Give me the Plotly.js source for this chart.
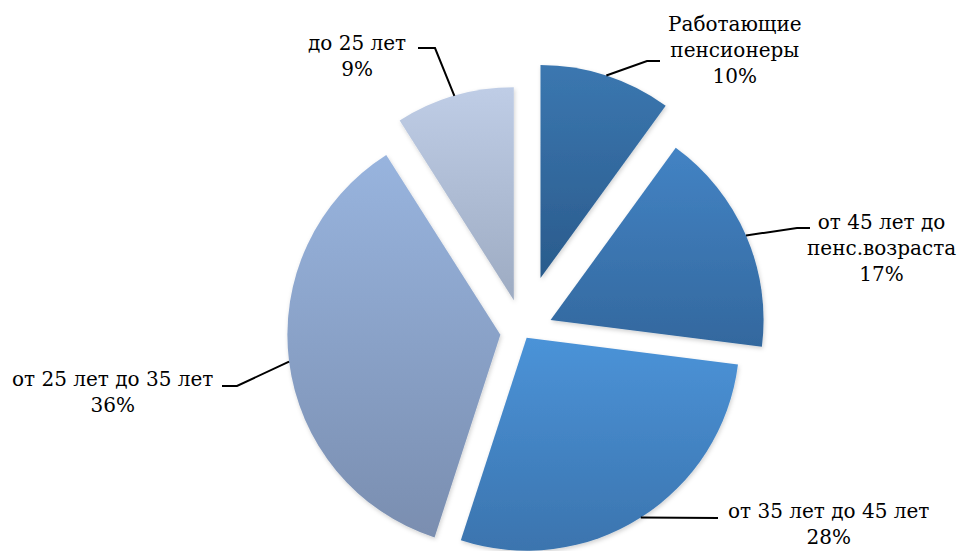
<!DOCTYPE html>
<html><head><meta charset="utf-8">
<script src="https://cdn.plot.ly/plotly-3.0.1.min.js"></script>
<style>html,body{margin:0;padding:0;overflow:hidden;background:#fff}#chart{width:962px;height:620px}</style>
</head><body><div id="chart"></div>
<script>
// ---- data ----
const categories = ['Работающие пенсионеры', 'от 45 лет до пенс.возраста', 'от 35 лет до 45 лет', 'от 25 лет до 35 лет', 'до 25 лет'];
const values = [10, 17, 28, 36, 9];
const labelLines = ['Работающие<br>пенсионеры', 'от 45 лет до<br>пенс.возраста', 'от 35 лет до 45 лет', 'от 25 лет до 35 лет', 'до 25 лет'];

// ---- style ----
const gradTop = ['#3b77b0', '#4383c4', '#4b93d8', '#98b4de', '#bfcde6'];
const gradBot = ['#2a5b8c', '#33689e', '#3b74ae', '#7a8eb0', '#9dabc2'];
const solid   = ['#336aa0', '#3a76b2', '#4384c4', '#89a1c8', '#aebcd5'];
const pulls = [0.266, 0.141, 0.032, 0.107, 0.155];
const labelPos = [[735, 50], [881, 248], [828, 524], [112, 392], [357, 56]];
const elbows = [[647, 61, 660, 61], [797, 228, 810, 228], [718, 518, 718, 518], [237, 386, 222, 386], [435, 48, 418, 48]];

const W = 962, H = 620, CX = 523, CY = 332, R = 213;
const maxPull = Math.max(...pulls);
const half = R * (1 + maxPull);
const px = x => x / W, py = y => 1 - y / H;
const cyP = 1 - CY / H;
const domain = {x: [(CX - half - 80) / W, (CX + half + 80) / W], y: [cyP - half / H, cyP + half / H]};

const total = values.reduce((a, b) => a + b, 0);
let cum = 0;
const shapes = [], annotations = [];
values.forEach((v, i) => {
  const mid = 2 * Math.PI * (cum + v / 2) / total;
  cum += v;
  const dx = Math.sin(mid), dy = -Math.cos(mid);
  const ax = CX + pulls[i] * R * dx, ay = CY + pulls[i] * R * dy;
  const ex = ax + R * dx, ey = ay + R * dy;
  const e = elbows[i];
  shapes.push({type: 'path', xref: 'paper', yref: 'paper',
    path: `M ${px(ex)} ${py(ey)} L ${px(e[0])} ${py(e[1])} L ${px(e[2])} ${py(e[3])}`,
    line: {color: '#000', width: 2}});
  annotations.push({xref: 'paper', yref: 'paper', x: px(labelPos[i][0]), y: py(labelPos[i][1]),
    xanchor: 'center', yanchor: 'middle', align: 'center', showarrow: false,
    text: labelLines[i] + '<br>' + Math.round(v / total * 100) + '%',
    font: {family: 'DejaVu Serif', size: 20, color: '#000'}});
});

const trace = {type: 'pie', labels: categories, values: values, sort: false, direction: 'clockwise',
  rotation: 0, pull: pulls, textinfo: 'none', hoverinfo: 'none', domain: domain,
  marker: {colors: solid, line: {width: 0}}, showlegend: false};

Plotly.newPlot('chart', [trace], {
  width: W, height: H, margin: {l: 0, r: 0, t: 0, b: 0},
  paper_bgcolor: '#fff', plot_bgcolor: '#fff', showlegend: false, hovermode: false,
  shapes: shapes, annotations: annotations
}, {staticPlot: true, displayModeBar: false}).then(gd => {
  const svg = gd.querySelector('svg.main-svg');
  const NS = 'http://www.w3.org/2000/svg';
  let defs = svg.querySelector('defs');
  if (!defs) { defs = document.createElementNS(NS, 'defs'); svg.insertBefore(defs, svg.firstChild); }
  const f = document.createElementNS(NS, 'filter');
  f.setAttribute('id', 'sliceShadow'); f.setAttribute('x', '-10%'); f.setAttribute('y', '-10%');
  f.setAttribute('width', '120%'); f.setAttribute('height', '120%');
  f.innerHTML = '<feDropShadow dx="1" dy="2" stdDeviation="2" flood-color="#000" flood-opacity="0.18"/>';
  defs.appendChild(f);
  gradTop.forEach((c, i) => {
    const g = document.createElementNS(NS, 'linearGradient');
    g.setAttribute('id', 'sg' + i); g.setAttribute('x1', '0'); g.setAttribute('y1', '0');
    g.setAttribute('x2', '0'); g.setAttribute('y2', '1');
    g.innerHTML = `<stop offset="0" stop-color="${c}"/><stop offset="1" stop-color="${gradBot[i]}"/>`;
    defs.appendChild(g);
  });
  gd.querySelectorAll('g.slice path.surface').forEach((p, i) => {
    p.style.fill = `url(#sg${i})`;
    p.setAttribute('filter', 'url(#sliceShadow)');
  });
});
</script></body></html>
